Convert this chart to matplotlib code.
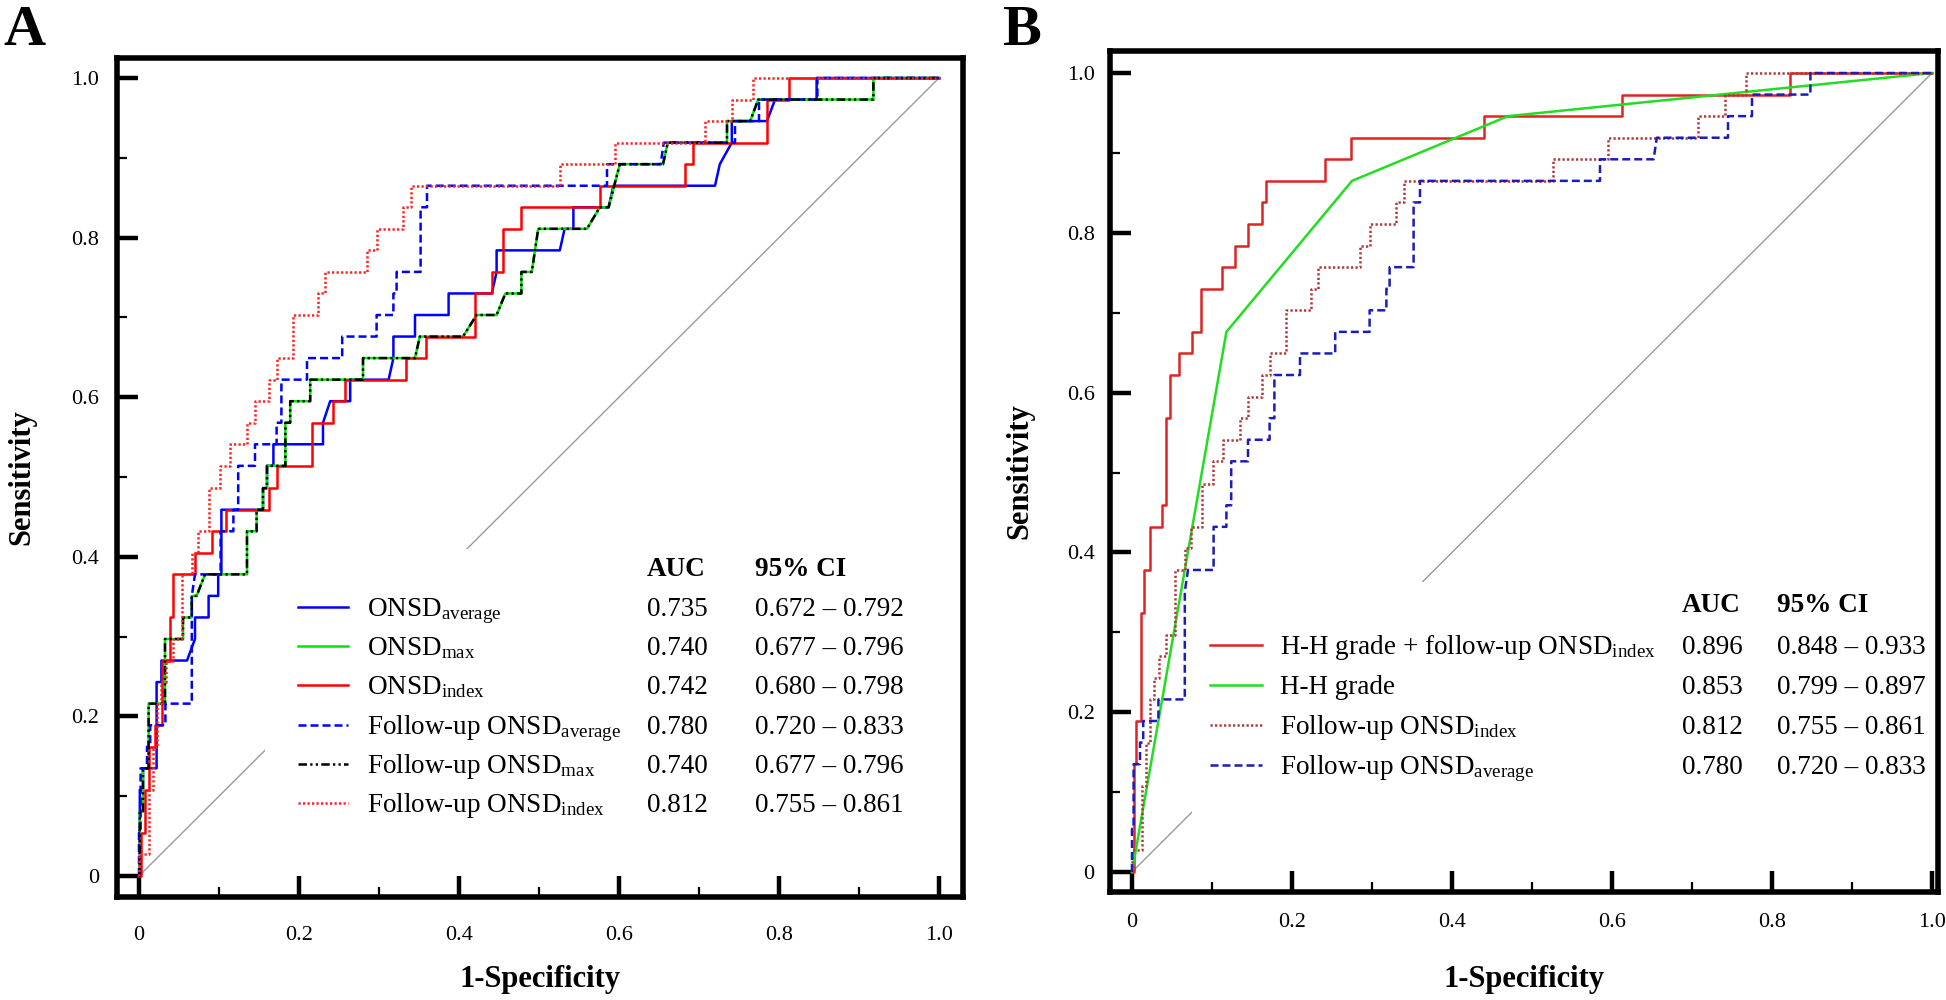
import matplotlib
matplotlib.use('Agg')
import matplotlib.pyplot as plt
from matplotlib.patches import Rectangle

plt.rcParams['font.family'] = ['Liberation Serif', 'DejaVu Serif']
plt.rcParams['mathtext.fontset'] = 'custom'
plt.rcParams['mathtext.rm'] = 'Liberation Serif'
plt.rcParams['mathtext.it'] = 'Liberation Serif:italic'
plt.rcParams['mathtext.bf'] = 'Liberation Serif:bold'

# ---------------- data ----------------
tick_values = [0, 0.2, 0.4, 0.6, 0.8, 1.0]
tick_labels = ['0', '0.2', '0.4', '0.6', '0.8', '1.0']
minor_values = [0.1, 0.3, 0.5, 0.7, 0.9]

onsd_average_roc = [(0, 0), (0.001, 0), (0.001, 0.108), (0.005, 0.108), (0.005, 0.135), (0.022, 0.135),
                    (0.022, 0.243), (0.028, 0.243), (0.028, 0.270), (0.060, 0.270), (0.070, 0.297),
                    (0.070, 0.324), (0.087, 0.324), (0.087, 0.351), (0.099, 0.351), (0.099, 0.378),
                    (0.103, 0.378), (0.103, 0.459), (0.155, 0.459), (0.155, 0.486), (0.160, 0.486),
                    (0.160, 0.514), (0.168, 0.514), (0.168, 0.541), (0.230, 0.541), (0.230, 0.568),
                    (0.239, 0.595), (0.264, 0.595), (0.264, 0.622), (0.312, 0.622), (0.318, 0.649),
                    (0.318, 0.676), (0.345, 0.676), (0.345, 0.703), (0.387, 0.703), (0.387, 0.730),
                    (0.441, 0.730), (0.447, 0.757), (0.447, 0.784), (0.526, 0.784), (0.532, 0.811),
                    (0.543, 0.811), (0.543, 0.838), (0.587, 0.838), (0.593, 0.865), (0.720, 0.865),
                    (0.726, 0.892), (0.741, 0.919), (0.741, 0.946), (0.785, 0.946), (0.795, 0.973),
                    (0.847, 0.973), (0.847, 1.0), (1.0, 1.0)]

onsd_max_roc = [(0, 0), (0.001, 0), (0.001, 0.081), (0.005, 0.081), (0.005, 0.135), (0.012, 0.135),
                (0.012, 0.216), (0.0325, 0.216), (0.0325, 0.297), (0.055, 0.297), (0.055, 0.324),
                (0.066, 0.324), (0.066, 0.351), (0.072, 0.351), (0.0825, 0.378), (0.135, 0.378),
                (0.135, 0.432), (0.147, 0.432), (0.147, 0.459), (0.155, 0.459), (0.155, 0.486),
                (0.160, 0.486), (0.160, 0.514), (0.183, 0.514), (0.183, 0.568), (0.189, 0.568),
                (0.189, 0.595), (0.214, 0.595), (0.214, 0.622), (0.280, 0.622), (0.280, 0.649),
                (0.345, 0.649), (0.351, 0.676), (0.405, 0.676), (0.422, 0.703), (0.447, 0.703),
                (0.458, 0.730), (0.478, 0.730), (0.478, 0.757), (0.491, 0.757), (0.495, 0.784),
                (0.499, 0.811), (0.560, 0.811), (0.576, 0.838), (0.587, 0.838), (0.601, 0.892),
                (0.655, 0.892), (0.661, 0.919), (0.735, 0.919), (0.735, 0.946), (0.764, 0.946),
                (0.774, 0.973), (0.918, 0.973), (0.918, 1.0), (1.0, 1.0)]

# follow-up ONSDmax has the same curve as ONSDmax
followup_max_roc = list(onsd_max_roc)

onsd_index_roc = [(0, 0), (0.003, 0), (0.003, 0.054), (0.008, 0.054), (0.008, 0.108), (0.012, 0.108),
                  (0.012, 0.162), (0.020, 0.162), (0.020, 0.189), (0.0285, 0.189), (0.0285, 0.270),
                  (0.039, 0.270), (0.039, 0.324), (0.043, 0.324), (0.043, 0.378), (0.070, 0.378),
                  (0.070, 0.405), (0.091, 0.405), (0.091, 0.432), (0.109, 0.432), (0.109, 0.459),
                  (0.162, 0.459), (0.162, 0.486), (0.172, 0.486), (0.172, 0.514), (0.216, 0.514),
                  (0.216, 0.568), (0.243, 0.568), (0.243, 0.595), (0.258, 0.595), (0.258, 0.622),
                  (0.334, 0.622), (0.334, 0.649), (0.359, 0.649), (0.359, 0.676), (0.420, 0.676),
                  (0.420, 0.730), (0.441, 0.730), (0.441, 0.757), (0.455, 0.757), (0.455, 0.811),
                  (0.478, 0.811), (0.478, 0.838), (0.576, 0.838), (0.576, 0.865), (0.682, 0.865),
                  (0.682, 0.892), (0.693, 0.892), (0.693, 0.919), (0.785, 0.919), (0.785, 0.973),
                  (0.812, 0.973), (0.812, 1.0), (1.0, 1.0)]

followup_average_roc = [(0, 0), (0, 0.054), (0.002, 0.054), (0.002, 0.135), (0.010, 0.135), (0.010, 0.162),
                        (0.014, 0.162), (0.014, 0.189), (0.033, 0.189), (0.033, 0.216), (0.066, 0.216),
                        (0.066, 0.351), (0.070, 0.378), (0.102, 0.378), (0.102, 0.432), (0.118, 0.432),
                        (0.118, 0.459), (0.124, 0.459), (0.124, 0.514), (0.145, 0.514), (0.145, 0.541),
                        (0.172, 0.541), (0.172, 0.568), (0.178, 0.568), (0.178, 0.622), (0.210, 0.622),
                        (0.210, 0.649), (0.254, 0.649), (0.254, 0.676), (0.297, 0.676), (0.297, 0.703),
                        (0.318, 0.703), (0.318, 0.730), (0.322, 0.730), (0.322, 0.757), (0.352, 0.757),
                        (0.352, 0.838), (0.360, 0.838), (0.360, 0.865), (0.585, 0.865), (0.585, 0.892),
                        (0.652, 0.892), (0.656, 0.919), (0.745, 0.919), (0.745, 0.946), (0.775, 0.946),
                        (0.775, 0.973), (0.848, 0.973), (0.848, 1.0), (1.0, 1.0)]

followup_index_roc = [(0, 0), (0, 0.027), (0.012, 0.027), (0.012, 0.108), (0.018, 0.108), (0.018, 0.162),
                      (0.022, 0.162), (0.022, 0.216), (0.027, 0.216), (0.027, 0.243), (0.034, 0.243),
                      (0.034, 0.270), (0.043, 0.270), (0.043, 0.297), (0.054, 0.297), (0.054, 0.378),
                      (0.066, 0.378), (0.066, 0.405), (0.074, 0.405), (0.074, 0.432), (0.087, 0.432),
                      (0.087, 0.486), (0.101, 0.486), (0.101, 0.514), (0.114, 0.514), (0.114, 0.541),
                      (0.135, 0.541), (0.135, 0.568), (0.145, 0.568), (0.145, 0.595), (0.162, 0.595),
                      (0.162, 0.622), (0.172, 0.622), (0.172, 0.649), (0.193, 0.649), (0.193, 0.703),
                      (0.224, 0.703), (0.224, 0.730), (0.233, 0.730), (0.233, 0.757), (0.285, 0.757),
                      (0.285, 0.784), (0.297, 0.784), (0.297, 0.811), (0.330, 0.811), (0.330, 0.838),
                      (0.340, 0.838), (0.340, 0.865), (0.526, 0.865), (0.526, 0.892), (0.595, 0.892),
                      (0.595, 0.919), (0.708, 0.919), (0.708, 0.946), (0.741, 0.946), (0.741, 0.973),
                      (0.768, 0.973), (0.768, 1.0), (1.0, 1.0)]

hh_combined_roc = [(0, 0), (0.002, 0), (0.002, 0.135), (0.005, 0.135), (0.005, 0.189), (0.011, 0.189),
                   (0.011, 0.324), (0.015, 0.324), (0.015, 0.378), (0.0225, 0.378), (0.0225, 0.432),
                   (0.038, 0.432), (0.038, 0.459), (0.0425, 0.459), (0.0425, 0.568), (0.048, 0.568),
                   (0.048, 0.622), (0.059, 0.622), (0.059, 0.649), (0.0746, 0.649), (0.0746, 0.676),
                   (0.0858, 0.676), (0.0858, 0.730), (0.112, 0.730), (0.112, 0.757), (0.129, 0.757),
                   (0.129, 0.784), (0.145, 0.784), (0.145, 0.811), (0.162, 0.811), (0.162, 0.838),
                   (0.167, 0.838), (0.167, 0.865), (0.241, 0.865), (0.241, 0.892), (0.274, 0.892),
                   (0.274, 0.919), (0.440, 0.919), (0.440, 0.946), (0.613, 0.946), (0.613, 0.973),
                   (0.822, 0.973), (0.822, 1.0), (1.0, 1.0)]

hh_grade_roc = [(0, 0), (0.118, 0.676), (0.275, 0.865), (0.470, 0.946), (1.0, 1.0)]

names_a = [r'ONSD$_{\mathrm{average}}$', r'ONSD$_{\mathrm{max}}$', r'ONSD$_{\mathrm{index}}$',
           r'Follow-up ONSD$_{\mathrm{average}}$', r'Follow-up ONSD$_{\mathrm{max}}$',
           r'Follow-up ONSD$_{\mathrm{index}}$']
auc_a = ['0.735', '0.740', '0.742', '0.780', '0.740', '0.812']
ci_a = ['0.672 – 0.792', '0.677 – 0.796', '0.680 – 0.798', '0.720 – 0.833', '0.677 – 0.796', '0.755 – 0.861']

names_b = [r'H-H grade + follow-up ONSD$_{\mathrm{index}}$', 'H-H grade',
           r'Follow-up ONSD$_{\mathrm{index}}$', r'Follow-up ONSD$_{\mathrm{average}}$']
auc_b = ['0.896', '0.853', '0.812', '0.780']
ci_b = ['0.848 – 0.933', '0.799 – 0.897', '0.755 – 0.861', '0.720 – 0.833']

# ---------------- styles ----------------
DASHED = (0, (3.2, 1.6))
DASHDOTDOT = (0, (3.4, 1.3, 0.9, 1.3, 0.9, 1.3))
DOTTED = (0, (0.9, 0.9))
LW = 1.8

styles_a = [
    dict(color='#0000ff', ls='-'),
    dict(color='#00e600', ls='-'),
    dict(color='#ff0000', ls='-'),
    dict(color='#0000ff', ls=DASHED),
    dict(color='#000000', ls=DASHDOTDOT),
    dict(color='#ff2020', ls=DOTTED),
]
styles_b = [
    dict(color='#e02424', ls='-'),
    dict(color='#22dd22', ls='-'),
    dict(color='#b03838', ls=DOTTED),
    dict(color='#1c1cb8', ls=DASHED),
]

W, H = 1946, 1000
fig = plt.figure(figsize=(W / 100, H / 100), dpi=100)


def make_axes(l, r, t, b, xlim, ylim):
    ax = fig.add_axes([l / W, 1 - b / H, (r - l) / W, (b - t) / H])
    ax.set_xlim(*xlim)
    ax.set_ylim(*ylim)
    for s in ax.spines.values():
        s.set_linewidth(4.0)
    ax.set_xticks(tick_values)
    ax.set_xticklabels(tick_labels)
    ax.set_yticks(tick_values)
    ax.set_yticklabels(tick_labels)
    ax.set_xticks(minor_values, minor=True)
    ax.set_yticks(minor_values, minor=True)
    ax.tick_params(which='major', direction='in', length=15, width=3.2, labelsize=16,
                   top=False, right=False)
    ax.tick_params(which='minor', direction='in', length=7.5, width=1.6, top=False, right=False)
    return ax


def draw_curves(ax, curves, styles, box):
    ax.plot([0, 1], [0, 1], color='#9a9a9a', lw=1.0, zorder=1)
    ax.add_patch(Rectangle((box[0], -0.02), 1.01 - box[0], box[1] + 0.02,
                           facecolor='white', edgecolor='none', zorder=1.5))
    for roc, st in zip(curves, styles):
        xs, ys = zip(*roc)
        ax.plot(xs, ys, color=st['color'], ls=st['ls'], lw=LW, zorder=3)


def draw_table(ax, names, aucs, cis, styles, axw, axh, ax_l, ax_b,
               key_x0, key_x1, lab_x, auc_x, ci_x, row0, dy, head_y, fs, extra_green=None):
    fx = lambda px: (px - ax_l) / axw
    fy = lambda py: (ax_b - py) / axh
    ax.text(fx(auc_x), fy(head_y + 9), 'AUC', fontsize=fs, fontweight='bold',
            transform=ax.transAxes, va='baseline', ha='left')
    ax.text(fx(ci_x), fy(head_y + 9), '95% CI', fontsize=fs, fontweight='bold',
            transform=ax.transAxes, va='baseline', ha='left')
    for i, (nm, au, ci, st) in enumerate(zip(names, aucs, cis, styles)):
        y = row0 + i * dy
        ax.plot([fx(key_x0), fx(key_x1)], [fy(y), fy(y)], transform=ax.transAxes,
                color=st['color'], ls=st['ls'], lw=LW, clip_on=False, zorder=4)
        ax.text(fx(lab_x), fy(y + 9), nm, fontsize=fs, transform=ax.transAxes,
                va='baseline', ha='left')
        ax.text(fx(auc_x), fy(y + 9), au, fontsize=fs, transform=ax.transAxes,
                va='baseline', ha='left')
        ax.text(fx(ci_x), fy(y + 9), ci, fontsize=fs, transform=ax.transAxes,
                va='baseline', ha='left')


# ---------------- panel A ----------------
aL, aR, aT, aB = 117, 963, 58, 897
axA = make_axes(aL, aR, aT, aB, (-22 / 800, (aR - 139) / 800), (-(aB - 876) / 798, (876 - aT) / 798))
axA.tick_params(axis='y', which='major', pad=13)
axA.tick_params(axis='x', which='major', pad=21)
curves_a = [onsd_average_roc, onsd_max_roc, onsd_index_roc, followup_average_roc,
            followup_max_roc, followup_index_roc]
draw_curves(axA, curves_a, styles_a, (0.157, 0.41))
draw_table(axA, names_a, auc_a, ci_a, styles_a, aR - aL, aB - aT, aL, aB,
           298, 348, 367, 647, 755, 607, 39.2, 567, 19.5)
axA.set_xlabel('1-Specificity', fontsize=22, fontweight='bold')
axA.set_ylabel('Sensitivity', fontsize=22, fontweight='bold')
axA.xaxis.set_label_coords(0.5, (aB - 980) / (aB - aT))
axA.xaxis.label.set_va('center')
axA.yaxis.set_label_coords((22 - aL) / (aR - aL), 0.5)
axA.yaxis.label.set_va('center')

# ---------------- panel B ----------------
bL, bR, bT, bB = 1110, 1938, 51, 892
axB = make_axes(bL, bR, bT, bB, (-22 / 800, (bR - 1132) / 800), (-(bB - 872) / 799, (872 - bT) / 799))
axB.tick_params(axis='y', which='major', pad=11)
axB.tick_params(axis='x', which='major', pad=15)
curves_b = [hh_combined_roc, hh_grade_roc, followup_index_roc, followup_average_roc]
draw_curves(axB, curves_b, styles_b, (0.0746, 0.363))
draw_table(axB, names_b, auc_b, ci_b, styles_b, bR - bL, bB - bT, bL, bB,
           1210, 1262, 1280, 1682, 1777, 645, 40, 603, 19.5)
axB.set_xlabel('1-Specificity', fontsize=22, fontweight='bold')
axB.set_ylabel('Sensitivity', fontsize=22, fontweight='bold')
axB.xaxis.set_label_coords(0.5, (bB - 980) / (bB - bT))
axB.xaxis.label.set_va('center')
axB.yaxis.set_label_coords((1020 - bL) / (bR - bL), 0.5)
axB.yaxis.label.set_va('center')

fig.text(3 / W, 1 - 5 / H, 'A', fontsize=42, fontweight='bold', va='top', ha='left')
fig.text(1002 / W, 1 - 5 / H, 'B', fontsize=42, fontweight='bold', va='top', ha='left')

fig.savefig('out.png', dpi=100)
